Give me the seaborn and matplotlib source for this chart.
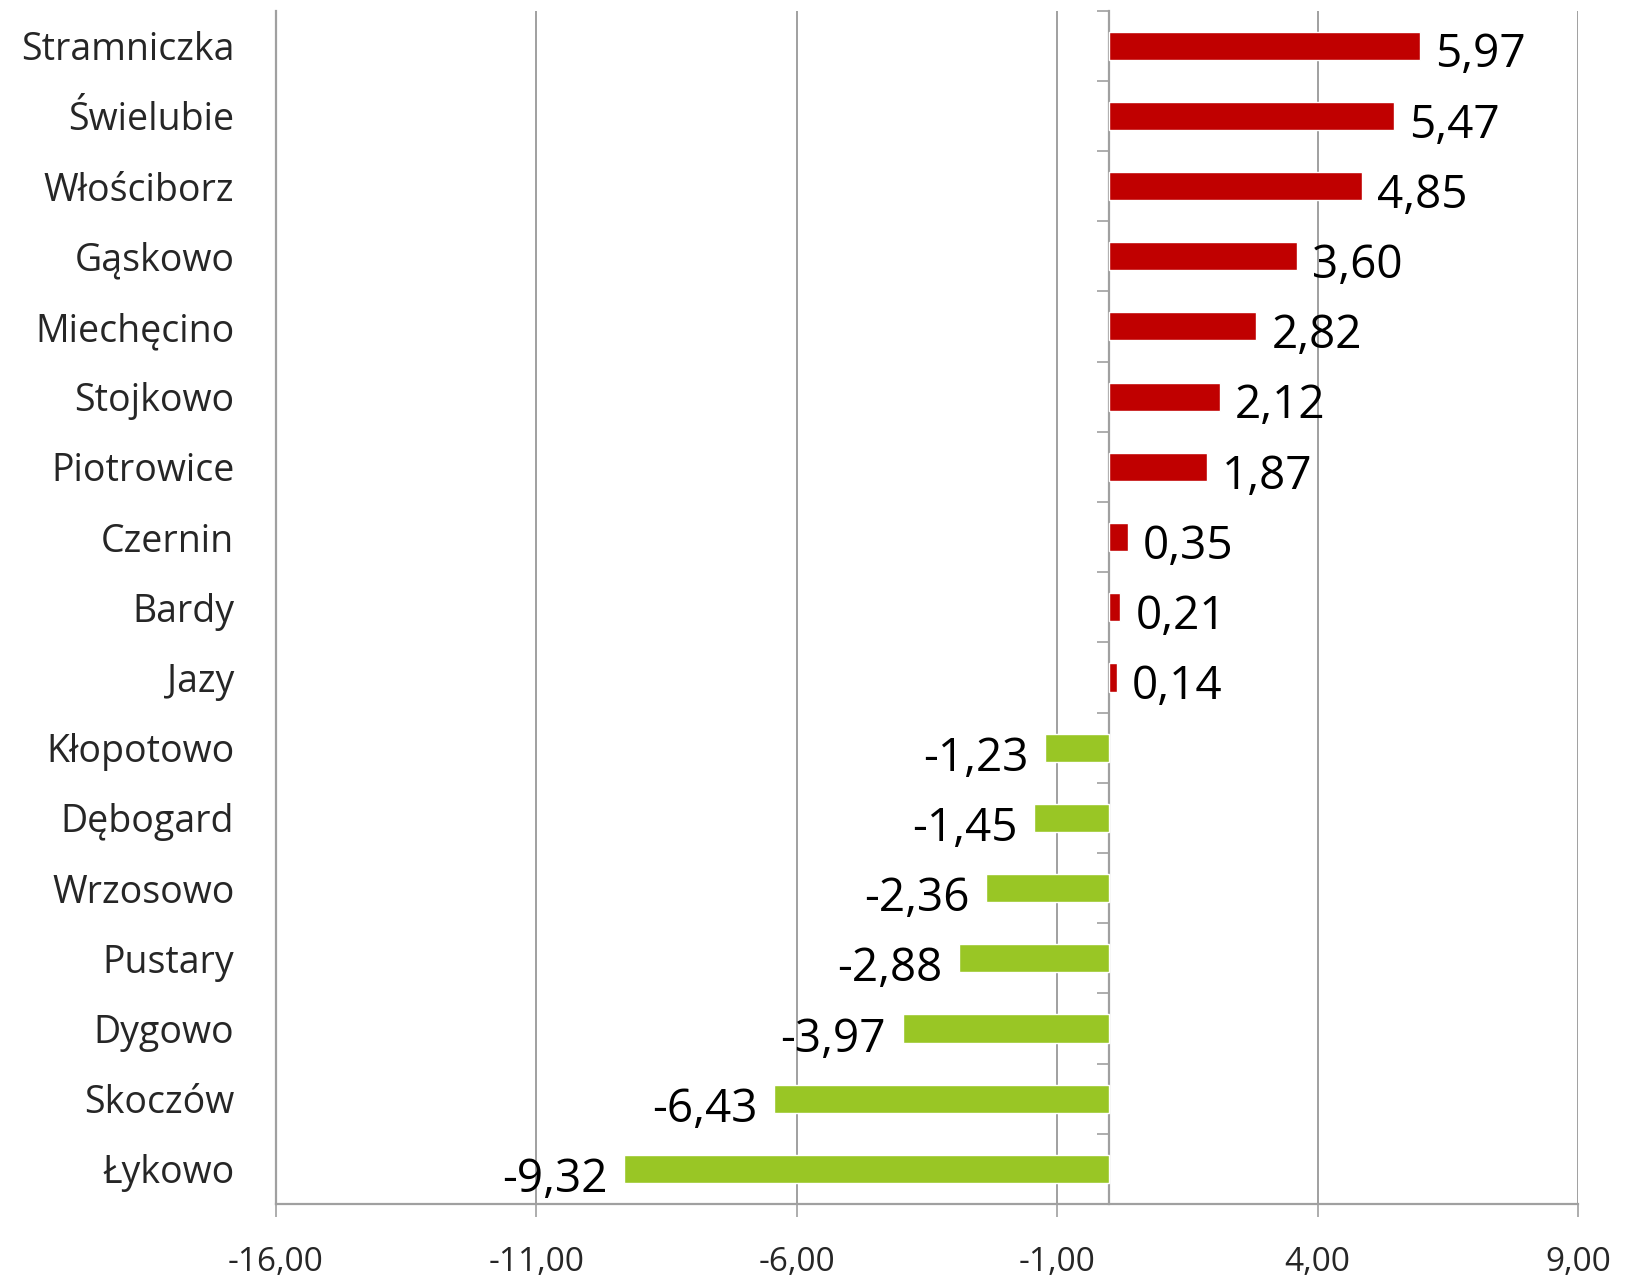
import matplotlib
matplotlib.use("Agg")
import matplotlib.pyplot as plt
import seaborn as sns
import numpy as np
import pandas as pd
from matplotlib.ticker import FuncFormatter

names = ["Stramniczka", "Świelubie", "Włościborz", "Gąskowo", "Miechęcino", "Stojkowo",
         "Piotrowice", "Czernin", "Bardy", "Jazy", "Kłopotowo", "Dębogard", "Wrzosowo",
         "Pustary", "Dygowo", "Skoczów", "Łykowo"]
values = [5.97, 5.47, 4.85, 3.60, 2.82, 2.12, 1.87, 0.35, 0.21, 0.14,
          -1.23, -1.45, -2.36, -2.88, -3.97, -6.43, -9.32]
x_ticks = [-16, -11, -6, -1, 4, 9]

RED = "#C00000"
GREEN = "#99C625"
GRID = "#A0A0A0"

sns.set_style("white")
plt.rcParams["font.family"] = ["Open Sans", "DejaVu Sans"]

df = pd.DataFrame({"name": names, "value": values})
df["sign"] = np.where(df["value"] >= 0, "pos", "neg")

fig = plt.figure(figsize=(16.45, 12.82), dpi=100)
ax = fig.add_axes([0.1678, 0.0608, 0.9593 - 0.1678, 0.9918 - 0.0608])

sns.barplot(data=df, y="name", x="value", hue="sign", palette={"pos": RED, "neg": GREEN},
            dodge=False, width=0.4, legend=False, orient="h", ax=ax, saturation=1)

n = len(names)
ax.set_xlim(x_ticks[0], x_ticks[-1])
ax.set_ylim(n - 0.5, -0.5)
ax.set_xticks(x_ticks)
ax.xaxis.set_major_formatter(FuncFormatter(lambda v, p: f"{v:.2f}".replace(".", ",")))
ax.set_xlabel("")
ax.set_ylabel("")
ax.grid(axis="x", color=GRID, lw=1.4)
ax.grid(axis="y", visible=False)
ax.set_axisbelow(True)

for s in ["top", "right"]:
    ax.spines[s].set_visible(False)
for s in ["left", "bottom"]:
    ax.spines[s].set_color(GRID)
    ax.spines[s].set_linewidth(1.6)

ax.tick_params(axis="x", direction="out", length=9.5, width=1.2, color=GRID,
               labelsize=24, pad=21, bottom=True)
ax.tick_params(axis="y", length=0, labelsize=27, pad=30)

sec = ax.secondary_yaxis(0, transform=ax.transData)
sec.set_yticks(np.arange(-0.5, n, 1.0))
sec.set_yticklabels([])
sec.tick_params(axis="y", direction="out", length=9, width=1.2, color=GRID)
sec.spines["left"].set_color(GRID)
sec.spines["left"].set_linewidth(1.6)

for cont in ax.containers:
    for patch in cont:
        w = patch.get_width()
        if np.isnan(w) or w == 0:
            continue
        yc = patch.get_y() + patch.get_height() / 2
        label = f"{w:.2f}".replace(".", ",")
        if w >= 0:
            ax.annotate(label, (w, yc), xytext=(11, -7), textcoords="offset points",
                        ha="left", va="center", fontsize=33, color="black")
        else:
            ax.annotate(label, (w, yc), xytext=(-12, -8), textcoords="offset points",
                        ha="right", va="center", fontsize=33, color="black")

fig.savefig("out.png", dpi=100)
